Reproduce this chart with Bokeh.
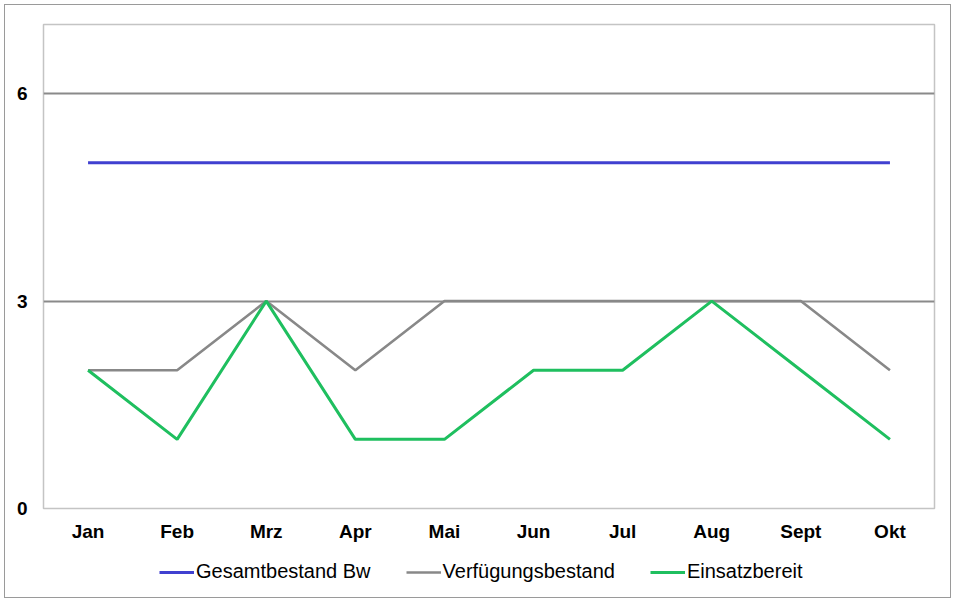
from bokeh.plotting import figure
from bokeh.layouts import column
from bokeh.models import Legend, LegendItem, FixedTicker, Range1d
from bokeh.embed import file_html
from bokeh.resources import INLINE

months = ["Jan", "Feb", "Mrz", "Apr", "Mai", "Jun", "Jul", "Aug", "Sept", "Okt"]
gesamtbestand = [5, 5, 5, 5, 5, 5, 5, 5, 5, 5]
verfuegungsbestand = [2, 2, 3, 2, 3, 3, 3, 3, 3, 2]
einsatzbereit = [2, 1, 3, 1, 1, 2, 2, 3, 2, 1]
y_ticks = [0, 3, 6]
series = [("Gesamtbestand Bw", gesamtbestand, "#4040D0", 3),
          ("Verfügungsbestand", verfuegungsbestand, "#888888", 2.6),
          ("Einsatzbereit", einsatzbereit, "#1FBF5F", 3)]

p = figure(x_range=months, y_range=Range1d(0, 7), width=945, height=544,
           output_backend="svg", toolbar_location=None,
           min_border_left=38, min_border_right=16, min_border_top=19, min_border_bottom=41)

for name, vals, col, lw in series:
    p.line(months, vals, line_color=col, line_width=lw)

p.outline_line_color = "#C4C4C4"
p.outline_line_width = 1.5
p.xgrid.grid_line_color = None
p.ygrid.grid_line_color = "#8a8a8a"
p.ygrid.grid_line_width = 1.8
p.yaxis.ticker = FixedTicker(ticks=y_ticks)

for ax in (p.xaxis, p.yaxis):
    ax.axis_line_color = None
    ax.major_tick_line_color = None
    ax.minor_tick_line_color = None
    ax.major_label_text_font = "Liberation Sans"
    ax.major_label_text_font_style = "bold"
    ax.major_label_text_font_size = "19px"
    ax.major_label_text_color = "#000000"
p.xaxis.major_label_standoff = 6
p.yaxis.major_label_standoff = 10

# legend strip (lines drawn off-screen only to provide legend glyphs)
lg = figure(x_range=months, y_range=Range1d(100, 101), width=945, height=48,
            output_backend="svg", toolbar_location=None,
            min_border_left=0, min_border_right=0, min_border_top=0, min_border_bottom=0)
lg.axis.visible = False
lg.grid.visible = False
lg.outline_line_color = None
items = []
for name, vals, col, lw in series:
    r = lg.line(months, vals, line_color=col, line_width=lw)
    items.append(LegendItem(label=name, renderers=[r]))

legend = Legend(items=items, orientation="horizontal", location=(116, 14))
legend.label_text_font = "Liberation Sans"
legend.label_text_font_size = "20px"
legend.label_text_color = "#000000"
legend.glyph_width = 35
legend.label_standoff = 2
legend.spacing = 35
legend.border_line_color = None
legend.background_fill_alpha = 0
legend.margin = 0
legend.padding = 0
lg.add_layout(legend, "center")

layout = column(p, lg, spacing=0)
layout.styles = {"border": "1.5px solid #9a9a9a", "margin": "4px 0 0 4px"}

open("out.html", "w").write(file_html(layout, INLINE))
